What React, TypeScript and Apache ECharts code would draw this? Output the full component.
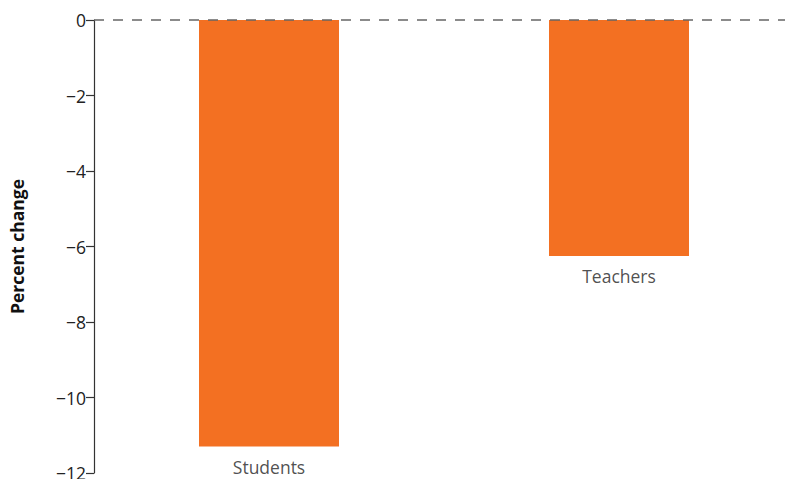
import React, { useEffect, useRef } from "react";
import * as echarts from "echarts";

const categories = ["Students", "Teachers"];
const percentChange = [-11.3, -6.25];
const yTicks = { min: -12, max: 0, interval: 2 };

export default function App() {
  const ref = useRef<HTMLDivElement>(null);
  useEffect(() => {
    const chart = echarts.init(ref.current!, null, { renderer: "svg" });
    const font = "'Open Sans', 'Noto Sans', sans-serif";
    chart.setOption({
      animation: false,
      grid: {
        left: 94,
        top: 20,
        width: 700,
        height: 453,
        containLabel: false,
        outerBoundsMode: "none",
      },
      xAxis: {
        type: "category",
        data: categories,
        axisLine: { show: false },
        axisTick: { show: false },
        axisLabel: { show: false },
        splitLine: { show: false },
      },
      yAxis: {
        type: "value",
        min: yTicks.min,
        max: yTicks.max,
        interval: yTicks.interval,
        name: "Percent change",
        nameLocation: "middle",
        nameGap: 68,
        nameTextStyle: { fontFamily: font, fontSize: 17.5, fontWeight: "bold", color: "#111" },
        axisLine: { show: true, lineStyle: { color: "#333", width: 1.2 } },
        axisTick: { show: true, length: 8, lineStyle: { color: "#333", width: 1.2 } },
        axisLabel: {
          margin: 8,
          fontFamily: font,
          fontSize: 17.5,
          color: "#222",
          formatter: (v: number) => String(v).replace("-", "\u2212"),
        },
        splitLine: { show: false },
      },
      series: [
        {
          type: "bar",
          data: percentChange,
          barWidth: 140,
          itemStyle: { color: "#F37022" },
          markLine: {
            silent: true,
            symbol: "none",
            label: { show: false },
            lineStyle: { color: "#666", type: [10, 9], width: 1.5 },
            data: [{ yAxis: 0 }],
          },
        },
        {
          type: "scatter",
          data: percentChange,
          symbolSize: 0,
          silent: true,
          label: {
            show: true,
            position: "bottom",
            distance: 11,
            fontFamily: font,
            fontSize: 17.5,
            color: "#222",
            formatter: (p: any) => categories[p.dataIndex],
          },
        },
      ],
    });
    return () => chart.dispose();
  }, []);
  return (
    <div
      ref={ref}
      style={{ position: "absolute", left: 0, top: 0, width: 785, height: 479 }}
    />
  );
}
